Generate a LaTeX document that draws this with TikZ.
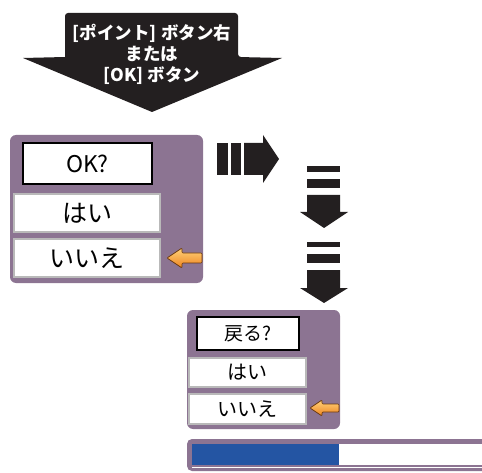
\documentclass[tikz,border=0pt]{standalone}
\usepackage{fontspec}
\newfontfamily\jp{Noto Sans CJK JP}
\definecolor{dlgpurple}{HTML}{8C7492}
\definecolor{arrowblack}{HTML}{231F20}
\definecolor{barblue}{HTML}{2455A3}
\definecolor{orangelight}{HTML}{FFD27A}
\definecolor{orangedark}{HTML}{EE8420}
\definecolor{orangeedge}{HTML}{6B3A10}
\begin{document}
\begin{tikzpicture}[x=1pt,y=-1pt,
  dialog/.style={fill=dlgpurple, rounded corners=6pt},
  titlebox/.style={draw=black, line width=1.6pt, fill=white, inner sep=0pt},
  itembox/.style={draw=gray!55, line width=1.4pt, fill=white, inner sep=0pt},
  bigtext/.style={font=\jp\fontsize{23}{26}\selectfont},
  bigkana/.style={font=\jp\fontsize{25}{28}\selectfont},
  smalltext/.style={font=\jp\fontsize{19}{21}\selectfont},
  smallkana/.style={font=\jp\fontsize{20}{22}\selectfont},
  blkarrow/.style={fill=arrowblack},
  pointer/.style={top color=orangelight, bottom color=orangedark, draw=orangeedge, line width=0.7pt, rounded corners=1pt}
]
\useasboundingbox (0,0) rectangle (482,473);
\begin{scope}
\clip (0,0) rectangle (482,473);

% top big arrow
\fill[arrowblack, rounded corners=3pt] (65,57) -- (65,13) -- (238,13) -- (238,57) [sharp corners] -- (282,58) -- (152,112) -- (23,58) -- cycle;
\node[align=center, text=white, font=\jp\bfseries\fontsize{17.5}{21}\selectfont] (ptext) at (152,54) {[ポイント] ボタン右\\または\\{}[OK] ボタン};

% dialog 1
\node[dialog, minimum width=193pt, minimum height=148pt, inner sep=0pt] (dlgA) at (106.5,209) {};
\node[titlebox, minimum width=129pt, minimum height=41pt, bigtext] (okq) at (87.5,163.5) {OK?};
\node[itembox, minimum width=146pt, minimum height=38pt, bigkana] (yesA) at (87,213) {はい};
\node[itembox, minimum width=146pt, minimum height=38pt, bigkana] (noA) at (87,258) {いいえ};
\draw[pointer] (167,258) -- (182,248) -- (182,253) -- (202,253) -- (202,263) -- (182,263) -- (182,268) -- cycle;

% striped right arrow
\fill[blkarrow] (217,143) rectangle (228,175);
\fill[blkarrow] (231,143) rectangle (241,175);
\fill[blkarrow] (244,143) -- (263,143) -- (263,135) -- (279,159) -- (263,183) -- (263,175) -- (244,175) -- cycle;

% down arrow 1
\fill[blkarrow] (307,166) rectangle (340,172);
\fill[blkarrow] (307,179) rectangle (340,188);
\fill[blkarrow] (307,195) -- (340,195) -- (340,212) -- (348,212) -- (324,228) -- (300,212) -- (307,212) -- cycle;

% down arrow 2
\fill[blkarrow] (307,242) rectangle (340,247);
\fill[blkarrow] (307,254) rectangle (340,263);
\fill[blkarrow] (307,270) -- (340,270) -- (340,288) -- (348,288) -- (324,303) -- (300,288) -- (307,288) -- cycle;

% dialog 2
\node[dialog, minimum width=153pt, minimum height=119pt, inner sep=0pt] (dlgB) at (263.5,369.5) {};
\node[titlebox, minimum width=102pt, minimum height=33pt, smalltext] (backq) at (248,333.5) {戻る?};
\node[itembox, minimum width=117pt, minimum height=29pt, smallkana] (yesB) at (247.5,372.5) {はい};
\node[itembox, minimum width=117pt, minimum height=30pt, smallkana] (noB) at (247.5,409) {いいえ};
\draw[pointer] (310,408) -- (322,400) -- (322,404) -- (339,404) -- (339,412) -- (322,412) -- (322,416) -- cycle;

% progress bar
\fill[dlgpurple, rounded corners=5pt] (187,439) rectangle (500,471);
\fill[white] (192,444) rectangle (500,465);
\fill[barblue] (192,444) rectangle (339,465);
\draw[white, line width=0.8pt] (192,467.5) -- (500,467.5);
\end{scope}
\end{tikzpicture}
\end{document}
